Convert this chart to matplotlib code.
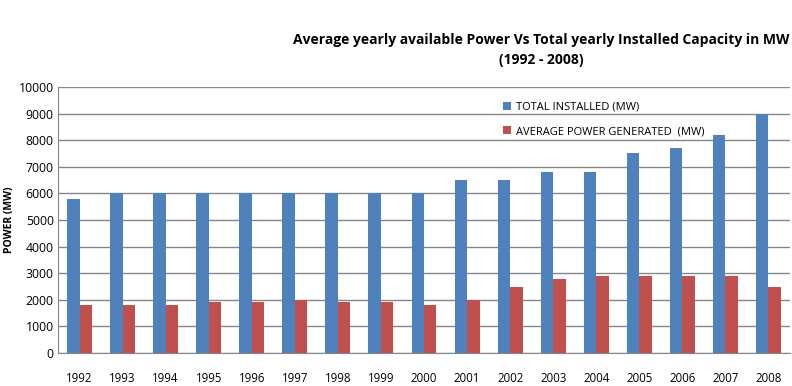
import matplotlib
matplotlib.use("Agg")
import matplotlib.pyplot as plt
import numpy as np

years = ["1992", "1993", "1994", "1995", "1996", "1997", "1998", "1999", "2000",
         "2001", "2002", "2003", "2004", "2005", "2006", "2007", "2008"]
total_installed = [5800, 6000, 6000, 6000, 6000, 6000, 6000, 6000, 6000,
                   6500, 6500, 6800, 6800, 7500, 7700, 8200, 9000]
avg_generated = [1800, 1800, 1800, 1900, 1900, 2000, 1900, 1900, 1800,
                 2000, 2500, 2800, 2900, 2900, 2900, 2900, 2500]
yticks = list(range(0, 10001, 1000))

plt.rcParams['font.family'] = ['Open Sans', 'DejaVu Sans']

fig = plt.figure(figsize=(7.92, 3.86), dpi=100)
ax = fig.add_axes([58/792, 1-353/386, (790-58)/792, (353-87)/386])

x = np.arange(len(years))
w = 0.29
ax.bar(x - w/2, total_installed, w, color="#4F81BD", label="TOTAL INSTALLED (MW)", zorder=3)
ax.bar(x + w/2, avg_generated, w, color="#C0504D", label="AVERAGE POWER GENERATED  (MW)", zorder=3)

ax.set_xlim(-0.5, len(years) - 0.5)
ax.set_ylim(0, 10000)
ax.set_yticks(yticks)
ax.set_yticklabels([str(v) for v in yticks], fontsize=8.8)
ax.set_xticks(x)
ax.set_xticklabels(years, fontsize=8.3)
ax.tick_params(axis='x', length=0, pad=14)
ax.tick_params(axis='y', length=0, pad=3)
ax.yaxis.grid(True, color="#868686", linewidth=1, zorder=0)
for s in ["top", "right"]:
    ax.spines[s].set_visible(False)
for s in ["left", "bottom"]:
    ax.spines[s].set_color("#868686")

ax.set_ylabel("POWER (MW)", fontsize=7.5, fontweight="bold", labelpad=3)

fig.text(541/792, 1-40/386, "Average yearly available Power Vs Total yearly Installed Capacity in MW",
         ha="center", va="center", fontsize=10, fontweight="bold")
fig.text(541/792, 1-60/386, "(1992 - 2008)", ha="center", va="center", fontsize=10, fontweight="bold")

leg = ax.legend(loc="upper left", bbox_to_anchor=(497/792, 1-96/386), bbox_transform=fig.transFigure,
                frameon=False, fontsize=8, handlelength=0.8, handleheight=0.8, handletextpad=0.4,
                labelspacing=1.2, borderpad=0)

fig.savefig("out.png", dpi=100)
